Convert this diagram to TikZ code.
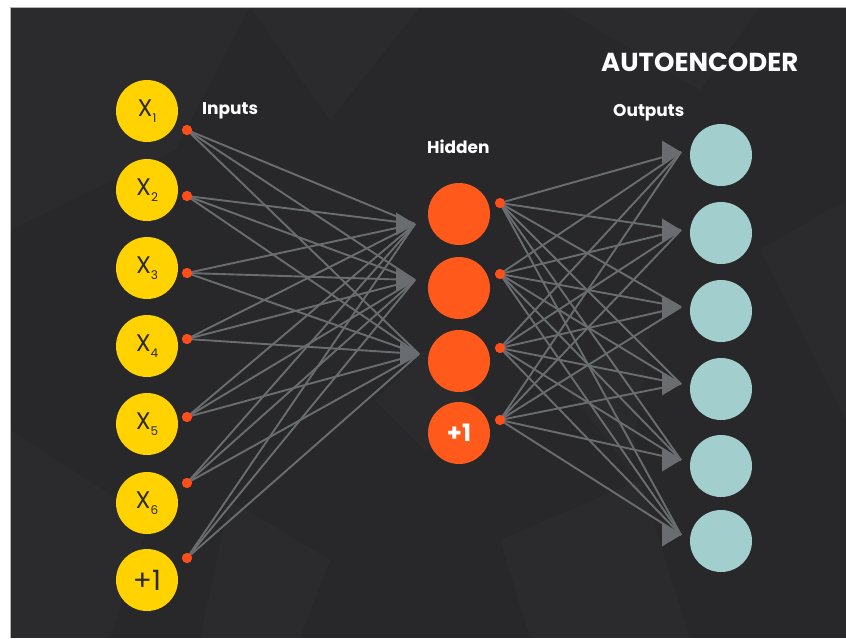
\documentclass[tikz,border=0pt]{standalone}
\usepackage{fontspec}
\setmainfont{Poppins}
\definecolor{bgdark}{HTML}{28282A}
\definecolor{inyellow}{HTML}{FFD200}
\definecolor{hidorange}{HTML}{FF5A1C}
\definecolor{dotorange}{HTML}{FF4E1A}
\definecolor{outteal}{HTML}{A3CECE}
\definecolor{linkgray}{HTML}{6A6D70}
\definecolor{intext}{HTML}{2A2A2A}
\newcommand\xsub[1]{X\raisebox{-6pt}{\fontsize{12}{12}\selectfont #1}}
\begin{document}
\begin{tikzpicture}[x=1pt,y=-1pt,
  neuron/.style={circle,minimum size=62pt,inner sep=0pt},
  innode/.style={neuron,fill=inyellow,text=intext,font=\fontsize{24}{24}\selectfont},
  hidnode/.style={neuron,fill=hidorange,text=white,font=\bfseries\fontsize{24}{24}\selectfont},
  outnode/.style={neuron,fill=outteal},
  biasdot/.style={circle,fill=dotorange,minimum size=10pt,inner sep=0pt},
  link/.style={draw=linkgray,line width=1.9pt},
  facet/.style={fill=white,fill opacity=0.014},
  caption/.style={text=white,anchor=base west,inner sep=0pt,font=\bfseries\fontsize{17}{17}\selectfont},
  headpic/.pic={\fill[linkgray] (0,0) -- (-19,-11.5) -- (-19,11.5) -- cycle;}]

% page and dark panel
\useasboundingbox (0,0) rectangle (846,638);
\fill[white] (0,0) rectangle (846,638);
\fill[bgdark] (10,7) rectangle (846,638);
\draw[gray!60,line width=0.6pt] (10,638) -- (10,7) -- (846,7);

% faint low-poly facets
\fill[facet] (10,7) -- (250,7) -- (175,150) -- (10,230) -- cycle;
\fill[facet] (250,7) -- (420,7) -- (330,120) -- cycle;
\fill[facet] (560,7) -- (760,7) -- (700,90) -- cycle;
\fill[facet] (375,400) -- (425,350) -- (475,400) -- (425,450) -- cycle;
\fill[facet] (10,430) -- (150,520) -- (110,638) -- (10,638) -- cycle;
\fill[facet] (230,500) -- (330,560) -- (300,638) -- (200,638) -- cycle;
\fill[facet] (500,540) -- (640,480) -- (690,638) -- (530,638) -- cycle;
\fill[facet] (760,250) -- (846,200) -- (846,420) -- cycle;
\fill[facet] (560,380) -- (650,330) -- (630,470) -- cycle;

% input layer
\node[innode] (x1) at (147,111) {\xsub{1}};
\node[innode] (x2) at (147,190) {\xsub{2}};
\node[innode] (x3) at (147,268) {\xsub{3}};
\node[innode] (x4) at (147,346) {\xsub{4}};
\node[innode] (x5) at (147,424) {\xsub{5}};
\node[innode] (x6) at (147,503) {\xsub{6}};
\node[innode,font=\fontsize{28}{28}\selectfont] (xb) at (147,580) {+1};

\node[biasdot] (d1) at (187,130) {};
\node[biasdot] (d2) at (187,196) {};
\node[biasdot] (d3) at (187,273) {};
\node[biasdot] (d4) at (187,339) {};
\node[biasdot] (d5) at (187,417) {};
\node[biasdot] (d6) at (187,483) {};
\node[biasdot] (d7) at (187,558) {};

% hidden layer
\node[hidnode] (h1) at (459,214) {};
\node[hidnode] (h2) at (459,288) {};
\node[hidnode] (h3) at (459,361) {};
\node[hidnode] (hb) at (459,433) {+1};

\node[biasdot] (e1) at (500,203) {};
\node[biasdot] (e2) at (500,274) {};
\node[biasdot] (e3) at (500,348) {};
\node[biasdot] (e4) at (500,420) {};

% output layer
\node[outnode] (o1) at (721,155) {};
\node[outnode] (o2) at (721,233) {};
\node[outnode] (o3) at (721,311) {};
\node[outnode] (o4) at (721,389) {};
\node[outnode] (o5) at (721,466) {};
\node[outnode] (o6) at (721,541) {};

% arrow targets in front of the hidden and output units
\coordinate (ha) at (415,224);
\coordinate (hc) at (415,280);
\coordinate (he) at (419,354);
\coordinate (t1) at (681,152);
\coordinate (t2) at (681,230);
\coordinate (t3) at (681,307);
\coordinate (t4) at (681,384);
\coordinate (t5) at (681,460);
\coordinate (t6) at (681,535);

% encoder connections
\foreach \s in {d1,d2,d3,d4,d5,d6,d7}
  \foreach \t in {ha,hc,he}
    \draw[link] (\s.center) -- (\t);
% decoder connections
\foreach \s in {e1,e2,e3,e4}
  \foreach \t in {t1,t2,t3,t4,t5,t6}
    \draw[link] (\s.center) -- (\t);

\foreach \t in {ha,hc,he,t1,t2,t3,t4,t5,t6}
  \pic at (\t) {headpic};

% dots stay above the lines
\foreach \s in {d1,d2,d3,d4,d5,d6,d7,e1,e2,e3,e4}
  \fill[dotorange] (\s) circle (5pt);

% captions
\node[caption] (inlbl) at (202,114) {Inputs};
\node[caption] (hidlbl) at (427,153) {Hidden};
\node[caption] (outlbl) at (613,116) {Outputs};
\node[caption,font=\bfseries\fontsize{26}{26}\selectfont] (title) at (601,71) {AUTOENCODER};
\end{tikzpicture}
\end{document}
